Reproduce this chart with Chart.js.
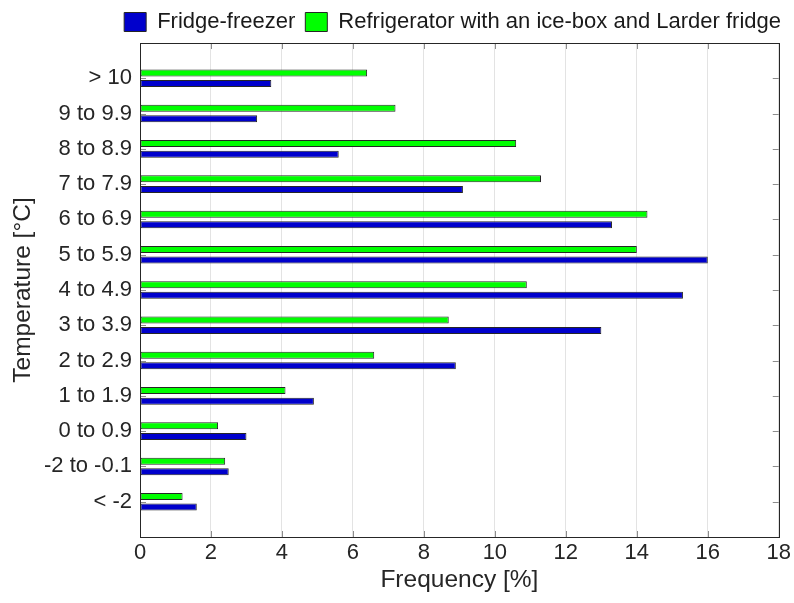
<!DOCTYPE html>
<html>
<head>
<meta charset="utf-8">
<script src="https://cdn.jsdelivr.net/npm/chart.js@4.4.1/dist/chart.umd.min.js"></script>
<style>
    body { margin: 0; background: #fff; }
    #wrap { width: 794px; height: 603px; }
</style>
</head>
<body>
<div id="wrap"><canvas id="chart"></canvas></div>
<script>
// temperature bands, bottom to top
const tempLabels = ['< -2', '-2 to -0.1', '0 to 0.9', '1 to 1.9', '2 to 2.9', '3 to 3.9',
    '4 to 4.9', '5 to 5.9', '6 to 6.9', '7 to 7.9', '8 to 8.9', '9 to 9.9', '> 10'];
const fridgeFreezer = [1.6, 2.5, 3.0, 4.9, 8.9, 13.0, 15.3, 16.0, 13.3, 9.1, 5.6, 3.3, 3.7];
const refrigerator = [1.2, 2.4, 2.2, 4.1, 6.6, 8.7, 10.9, 14.0, 14.3, 11.3, 10.6, 7.2, 6.4];
const xTicks = [0, 2, 4, 6, 8, 10, 12, 14, 16, 18];

const fontFamily = '"Liberation Sans", Arial, Helvetica, sans-serif';

function toPoints(values) {
    return values.map((v, i) => ({ x: v, y: i + 1 }));
}

// box round the plot and the little inward ticks (matlab style)
const framePlugin = {
    id: 'frame',
    afterDatasetsDraw(chart) {
        const { ctx, chartArea: a, scales } = chart;
        const x = scales.x, y = scales.y;
        ctx.save();
        ctx.strokeStyle = '#8c8c8c';
        ctx.lineWidth = 1;
        ctx.beginPath();
        xTicks.forEach(v => {
            const px = Math.round(x.getPixelForValue(v)) + 0.5;
            ctx.moveTo(px, a.bottom); ctx.lineTo(px, a.bottom - 6);
            ctx.moveTo(px, a.top); ctx.lineTo(px, a.top + 6);
        });
        tempLabels.forEach((l, i) => {
            const py = Math.round(y.getPixelForValue(i + 1)) + 0.5;
            ctx.moveTo(a.left, py); ctx.lineTo(a.left + 6, py);
            ctx.moveTo(a.right, py); ctx.lineTo(a.right - 6, py);
        });
        ctx.stroke();
        ctx.strokeStyle = '#262626';
        ctx.strokeRect(Math.round(a.left) + 0.5, Math.round(a.top) + 0.5,
            Math.round(a.right - a.left), Math.round(a.bottom - a.top));
        ctx.restore();
    }
};

const ctx = document.getElementById('chart').getContext('2d');
const chart = new Chart(ctx, {
    type: 'bar',
    data: {
        datasets: [{
            label: 'Refrigerator with an ice-box and Larder fridge',
            data: toPoints(refrigerator),
            backgroundColor: '#00ff00',
            borderColor: '#262626',
            borderWidth: 1,
            borderSkipped: false
        }, {
            label: 'Fridge-freezer',
            data: toPoints(fridgeFreezer),
            backgroundColor: '#0000cc',
            borderColor: '#262626',
            borderWidth: 1,
            borderSkipped: false
        }]
    },
    options: {
        indexAxis: 'y',
        responsive: true,
        maintainAspectRatio: false,
        animation: false,
        categoryPercentage: 0.6,
        barPercentage: 0.66,
        layout: { padding: { top: 1, right: 3, left: 0, bottom: 0 } },
        plugins: {
            tooltip: { enabled: false },
            legend: {
                position: 'top',
                align: 'end',
                reverse: true,
                labels: {
                    boxWidth: 22,
                    boxHeight: 19,
                    padding: 10,
                    color: '#1a1a1a',
                    font: { family: fontFamily, size: 22 }
                }
            }
        },
        scales: {
            x: {
                type: 'linear',
                min: 0,
                max: 18,
                afterBuildTicks: (scale) => { scale.ticks = xTicks.map(v => ({ value: v })); },
                afterFit: (scale) => { scale.height = 66; },
                grid: { color: '#e3e3e3', drawTicks: false },
                border: { display: false },
                ticks: { color: '#262626', padding: 3, font: { family: fontFamily, size: 22 } },
                title: {
                    display: true,
                    text: 'Frequency [%]',
                    color: '#262626',
                    padding: { top: 0, bottom: 8 },
                    font: { family: fontFamily, size: 24.5 }
                }
            },
            y: {
                type: 'linear',
                offset: false,
                min: 0,
                max: 14,
                afterBuildTicks: (scale) => { scale.ticks = tempLabels.map((l, i) => ({ value: i + 1 })); },
                afterFit: (scale) => { scale.width = 140; },
                grid: { display: false, drawTicks: false },
                border: { display: false },
                ticks: {
                    color: '#262626',
                    padding: 8,
                    font: { family: fontFamily, size: 22 },
                    callback: (value) => tempLabels[value - 1] || ''
                },
                title: {
                    display: true,
                    text: 'Temperature [°C]',
                    color: '#262626',
                    padding: { top: 9, bottom: 0 },
                    font: { family: fontFamily, size: 24.5 }
                }
            }
        }
    },
    plugins: [framePlugin]
});
</script>
</body>
</html>
